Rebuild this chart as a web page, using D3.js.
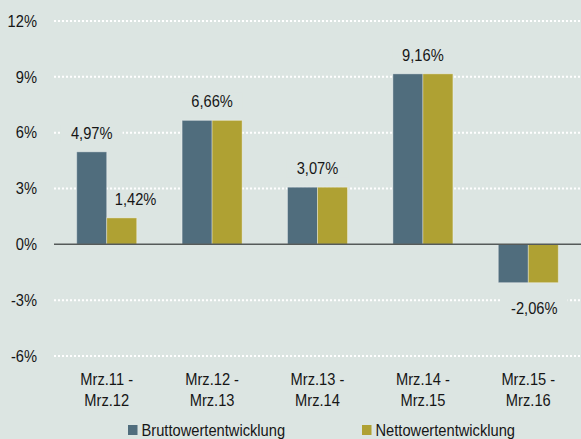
<!DOCTYPE html>
<html><head><meta charset="utf-8">
<script src="https://cdn.jsdelivr.net/npm/d3@7"></script>
<style>
html,body{margin:0;padding:0;background:#dce5e2;}
svg{display:block;}
text{font-family:"Liberation Sans",Arial,sans-serif;fill:#161616;}
</style></head>
<body>
<svg id="chart" width="581" height="439"></svg>
<script>
const categories = [["Mrz.11 -","Mrz.12"],["Mrz.12 -","Mrz.13"],["Mrz.13 -","Mrz.14"],["Mrz.14 -","Mrz.15"],["Mrz.15 -","Mrz.16"]];
const seriesNames = ["Bruttowertentwicklung","Nettowertentwicklung"];
const brutto = [4.97, 6.66, 3.07, 9.16, -2.06];
const netto = [1.42, 6.66, 3.07, 9.16, -2.06];
const yTicks = [-6, -3, 0, 3, 6, 9, 12];
const colors = ["#506d7d", "#afa133"];
const bg = "#dce5e2";

(function(){
const svg = d3.select("#chart");
const W = 581, H = 439;
const mLeft = 54, mRight = 581, mTop = 21, mBottom = 356;
const FS = 16.5, SX = 0.89;

const x0 = d3.scaleBand().domain(d3.range(categories.length)).range([mLeft, mRight]).padding(0);
const x1 = d3.scaleBand().domain([0,1]).range([0, 60]);
const y = d3.scaleLinear().domain([-6, 12]).range([mBottom, mTop]);

function txt(g, x, yy, s, anchor) {
  return g.append("text")
    .attr("transform", `translate(${x},${yy}) scale(${SX},1)`)
    .attr("text-anchor", anchor || "start")
    .attr("font-size", FS).text(s);
}

svg.append("rect").attr("width", W).attr("height", H).attr("fill", bg);

// gridlines
svg.append("g").selectAll("line").data(yTicks.filter(d => d !== 0)).join("line")
  .attr("x1", mLeft).attr("x2", mRight)
  .attr("y1", d => y(d)).attr("y2", d => y(d))
  .attr("stroke", "#ffffff").attr("stroke-width", 2).attr("stroke-dasharray", "2,2");

// y axis labels
const ya = svg.append("g");
yTicks.forEach(t => txt(ya, 37, y(t) + 5.7, t + "%", "end"));

// value labels (with background boxes) drawn before bars
const fmt = v => d3.format(".2f")(v).replace(".", ",").replace("−", "-") + "%";
const labels = [];
categories.forEach((c, i) => {
  const gx = x0(i) + x0.bandwidth() / 2 - 30;
  const b = brutto[i], n = netto[i];
  if (b === n) {
    labels.push({x: gx + 30 + (b < 0 ? 6 : 0), v: b, k: -1});
  } else {
    labels.push({x: gx + x1.bandwidth()/2, v: b, k: 0, gx});
    labels.push({x: gx + x1(1) + x1.bandwidth()/2, v: n, k: 1, gx});
  }
});
const lg = svg.append("g");
labels.forEach(l => {
  const yy = l.v >= 0 ? y(l.v) - 13 : y(l.v) + 31;
  const t = txt(lg, l.x, yy, fmt(l.v), "middle");
  const bb = t.node().getBBox();
  const w = bb.width * SX;
  // second-series label kept clear of the neighbouring (taller) bar
  if (l.k === 1) {
    const minCx = l.gx + x1.bandwidth() + 8 + w / 2;
    if (l.x < minCx) { l.x = minCx; t.attr("transform", `translate(${l.x},${yy}) scale(${SX},1)`); }
  }
  lg.insert("rect", "text").attr("x", l.x - w / 2 - 10).attr("y", yy + bb.y).attr("width", w + 20).attr("height", bb.height).attr("fill", bg);
});

// bars
const groups = svg.append("g").selectAll("g").data(categories.map((c, i) => i)).join("g")
  .attr("transform", i => `translate(${x0(i) + x0.bandwidth()/2 - 30},0)`);
groups.selectAll("rect").data(i => [brutto[i], netto[i]]).join("rect")
  .attr("x", (d, k) => x1(k)).attr("width", x1.bandwidth())
  .attr("y", d => y(Math.max(0, d))).attr("height", d => Math.abs(y(d) - y(0)))
  .attr("fill", (d, k) => colors[k])
  .attr("stroke", "rgba(255,255,255,0.35)").attr("stroke-width", 1);

// zero line
svg.append("line").attr("x1", mLeft).attr("x2", mRight).attr("y1", y(0)).attr("y2", y(0))
  .attr("stroke", "#555a59").attr("stroke-width", 1.5);

// x axis labels
const xl = svg.append("g");
categories.forEach((c, i) => {
  const cx = x0(i) + x0.bandwidth() / 2;
  c.forEach((line, j) => txt(xl, cx, 385 + j * 20.5, line, "middle"));
});

// legend
const legendX = [128, 362];
const leg = svg.append("g");
seriesNames.forEach((s, k) => {
  leg.append("rect").attr("x", legendX[k]).attr("y", 425).attr("width", 9.5).attr("height", 10).attr("fill", colors[k]);
  txt(leg, legendX[k] + 13.5, 435.5, s, "start");
});
})();
</script>
</body></html>
